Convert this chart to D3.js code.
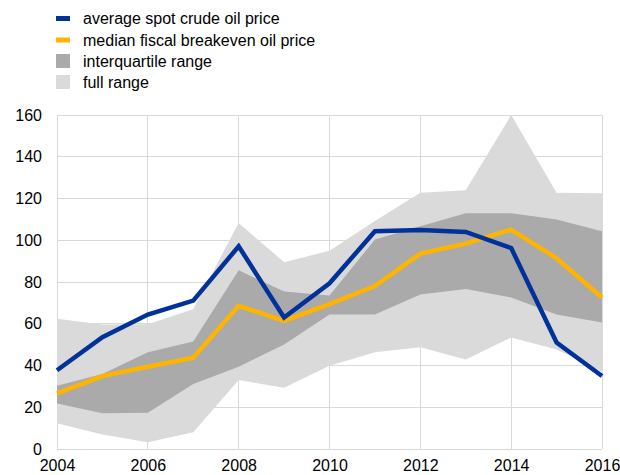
<!DOCTYPE html>
<html><head><meta charset="utf-8">
<script src="https://cdn.jsdelivr.net/npm/d3@7"></script>
<style>body{margin:0;background:#fff}svg{display:block}text{font-family:"Liberation Sans",Arial,sans-serif;fill:#000}</style>
</head><body><svg id="c" width="620" height="475"></svg>
<script>
const years = [2004,2005,2006,2007,2008,2009,2010,2011,2012,2013,2014,2015,2016];
const spotPrice = [37.7,53.6,64.4,71.1,97.1,63.0,79.4,104.3,104.9,104.0,96.3,51.0,35.0];
const medianBreakeven = [26.6,34.9,39.4,43.7,68.6,61.4,69.4,78.1,93.6,98.4,105.1,91.4,72.6];
const fullMax = [62.4,59.6,59.8,67.0,108.3,89.5,95.0,109.2,122.8,123.9,160,122.8,122.5];
const fullMin = [12.3,7.0,3.2,8.0,33.0,29.3,39.9,46.3,48.8,42.9,53.4,47.7,37.0];
const iqrHigh = [30.3,35.9,46.4,51.5,85.6,75.4,73.5,100.3,106.7,112.9,112.9,110.0,104.3];
const iqrLow = [21.8,17.1,17.4,31.1,39.4,50.1,64.4,64.4,74.0,76.6,72.6,64.4,60.6];
const xTicks = [2004,2006,2008,2010,2012,2014,2016];
const yTicks = [0,20,40,60,80,100,120,140,160];
const legendLabels = ["average spot crude oil price","median fiscal breakeven oil price","interquartile range","full range"];

const svg = d3.select("#c");
const L=57,R=602,T=115,B=449;
const x = d3.scaleLinear().domain([2004,2016]).range([L,R]);
const y = d3.scaleLinear().domain([0,160]).range([B,T]);
const gridC="#d9d9d9";

// grid
svg.append("g").selectAll("line").data(yTicks).join("line")
  .attr("x1",L).attr("x2",R).attr("y1",d=>y(d)).attr("y2",d=>y(d))
  .attr("stroke",gridC).attr("stroke-width",1).attr("shape-rendering","crispEdges");
svg.append("g").selectAll("line").data(xTicks).join("line")
  .attr("x1",d=>x(d)).attr("x2",d=>x(d)).attr("y1",T).attr("y2",B)
  .attr("stroke",gridC).attr("stroke-width",1).attr("shape-rendering","crispEdges");

const idx = years.map((d,i)=>i);
const area = (lo,hi)=>d3.area().x(i=>x(years[i])).y0(i=>y(lo[i])).y1(i=>y(hi[i]));
svg.append("path").attr("d",area(fullMin,fullMax)(idx)).attr("fill","#dadada");
svg.append("path").attr("d",area(iqrLow,iqrHigh)(idx)).attr("fill","#aaaaaa");
const line = v=>d3.line().x(i=>x(years[i])).y(i=>y(v[i]));
svg.append("path").attr("d",line(medianBreakeven)(idx)).attr("fill","none").attr("stroke","#ffb400").attr("stroke-width",4.5);
svg.append("path").attr("d",line(spotPrice)(idx)).attr("fill","none").attr("stroke","#003299").attr("stroke-width",4.5);

// axes labels
const yAxis = d3.axisLeft(y).tickValues(yTicks).tickSize(0).tickPadding(15);
const gy = svg.append("g").attr("transform",`translate(${L},0)`).call(yAxis);
gy.select(".domain").remove();
gy.selectAll("text").style("font-size","16px").style("font-family","Liberation Sans, Arial, sans-serif").attr("fill","#000");
const xAxis = d3.axisBottom(x).tickValues(xTicks).tickFormat(d3.format("d")).tickSize(0).tickPadding(11);
const gx = svg.append("g").attr("transform",`translate(0,${B})`).call(xAxis);
gx.select(".domain").remove();
gx.selectAll("text").style("font-size","16px").style("font-family","Liberation Sans, Arial, sans-serif").attr("fill","#000");

// legend
const lg = svg.append("g");
const rowsY=[18.5,40,61,82];
const sw=[{c:"#003299",t:"line"},{c:"#ffb400",t:"line"},{c:"#aaaaaa",t:"box"},{c:"#dadada",t:"box"}];
legendLabels.forEach((lab,i)=>{
  const s=sw[i];
  if(s.t==="line") lg.append("rect").attr("x",56).attr("y",rowsY[i]-2.5).attr("width",14).attr("height",5).attr("fill",s.c);
  else lg.append("rect").attr("x",56).attr("y",rowsY[i]-7).attr("width",14).attr("height",14).attr("fill",s.c);
  lg.append("text").attr("x",83).attr("y",rowsY[i]).attr("dy","0.35em").style("font-size","16px").text(lab);
});
</script></body></html>
